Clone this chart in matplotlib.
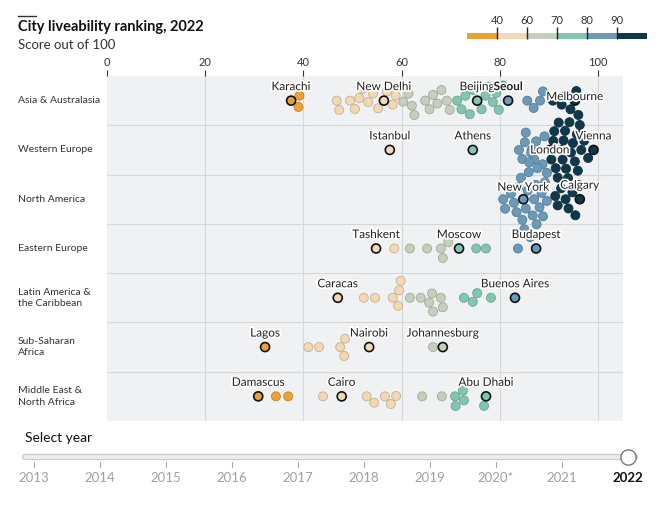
import numpy as np
import matplotlib
matplotlib.use("Agg")
import matplotlib.pyplot as plt
import matplotlib.patheffects as pe
from matplotlib.transforms import blended_transform_factory

plt.rcParams["font.family"] = ["Lato", "DejaVu Sans"]

# ---- data ----
regions = ["Asia & Australasia", "Western Europe", "North America", "Eastern Europe",
           "Latin America &\nthe Caribbean", "Sub-Saharan\nAfrica", "Middle East &\nNorth Africa"]

asia = [39.2, 39.0,
        46.8, 47.3, 49.5, 50.5, 51.4, 52.1, 53.2, 54.2, 55.2, 57.0, 58.2, 58.8,
        60.3, 61.4, 62.1, 62.6, 64.8, 65.7, 66.4, 67.3, 68.1, 69.2, 69.8,
        71.3, 72.2, 73.0, 73.9, 74.6, 76.3, 77.1, 77.8, 78.6, 79.3, 79.8,
        80.6, 85.6, 86.9, 88.2, 88.8,
        90.8, 92.6, 93.4, 94.4, 96.0, 95.6]
w_europe = [83.9, 84.6, 85.3, 86.5, 87.4, 88.7, 85.1, 87.0, 89.1, 89.6,
            98.0, 97.2, 96.3, 95.9, 95.7, 95.3, 94.9, 94.7, 94.2, 93.9, 93.5, 93.3,
            92.8, 92.6, 92.0, 91.8, 91.4, 91.1, 90.9, 90.5, 93.0, 94.5, 96.6]
n_america = [96.1, 95.4, 94.8, 94.0, 93.4, 92.5, 91.8, 91.3,
             80.7, 81.1, 82.3, 82.9, 83.4, 83.8, 84.3, 85.0, 85.3, 85.7, 86.0,
             86.4, 86.7, 87.0, 87.3, 87.7, 88.1, 88.5, 88.8, 89.2, 89.6,
             84.6, 85.9, 87.5, 86.2]
e_europe = [58.5, 61.7, 65.2, 68.0, 69.5, 68.4, 75.2, 77.2, 83.7]
latam = [52.3, 54.6, 58.2, 59.8, 59.5, 59.3, 61.7, 63.9, 66.4, 66.2, 68.4,
         65.6, 68.0, 72.7, 75.4, 74.5, 78.2]
ssa = [41.0, 43.2, 47.5, 48.5, 48.3, 66.4]
mena = [34.4, 36.9, 44.0, 52.9, 54.4, 56.6, 58.9, 57.8, 64.2, 68.2,
        70.9, 71.0, 72.7, 72.5, 76.8]
others = [asia, w_europe, n_america, e_europe, latam, ssa, mena]

# highlighted cities: (row, name, score)
cities = [(0, "Karachi", 37.5), (0, "New Delhi", 56.4), (0, "Beijing", 75.4),
          (0, "Seoul", 81.7), (0, "Melbourne", 95.3),
          (1, "Istanbul", 57.6), (1, "Athens", 74.5), (1, "Vienna", 99.1), (1, "London", 90.2),
          (2, "New York", 84.8), (2, "Calgary", 96.3),
          (3, "Tashkent", 54.8), (3, "Moscow", 71.7), (3, "Budapest", 87.4),
          (4, "Caracas", 47.0), (4, "Buenos Aires", 83.1),
          (5, "Lagos", 32.2), (5, "Nairobi", 53.4), (5, "Johannesburg", 68.4),
          (6, "Damascus", 30.8), (6, "Cairo", 47.8), (6, "Abu Dhabi", 77.2)]

band_edges = [40, 60, 70, 80, 90]
band_labels = ["40", "60", "70", "80", "90"]
band_colors = ["#EBA135", "#F2D8B5", "#C6CFBE", "#82C6B2", "#6A9AB7", "#10384A"]
years = [2013, 2014, 2015, 2016, 2017, 2018, 2019, 2020, 2021, 2022]
year_labels = ["2013", "2014", "2015", "2016", "2017", "2018", "2019", "2020*", "2021", "2022"]

W, H = 658, 522
fig = plt.figure(figsize=(W / 100, H / 100), dpi=100)
fig.patch.set_facecolor("white")

# main panel
ax = fig.add_axes([107 / W, 1 - 421 / H, 516 / W, 345 / H])
ax.set_facecolor("#F0F1F3")
XMAX = 105.1
ax.set_xlim(0, XMAX)
ax.set_ylim(len(regions), 0)
for s in ax.spines.values():
    s.set_visible(False)
ax.xaxis.tick_top()
ax.set_xticks([0, 20, 40, 60, 80, 100])
ax.tick_params(axis="x", top=True, bottom=False, labeltop=True, labelbottom=False,
               labelsize=8, colors="#333333", length=4, width=0.8, pad=2)
ax.set_yticks([])
for v in [20, 40, 60, 80, 100]:
    ax.axvline(v, color="#D6D7D9", lw=0.8, zorder=1)
for r in range(1, len(regions)):
    ax.axhline(r, color="#D6D7D9", lw=0.8, zorder=1)

kx = 516 / XMAX          # px per score point
ky = 345 / len(regions)  # px per row
D = 9.7                  # min distance between dot centres, px


def colour(v):
    return band_colors[int(np.searchsorted(band_edges, v, side="right"))]


def darker(c, f=0.82):
    rgb = np.array(matplotlib.colors.to_rgb(c))
    return tuple(rgb * f)


def swarm(xs):
    placed, out = [], []
    for x in xs:
        cands = [0.0]
        for px, py in placed:
            dx = abs(x - px)
            if dx < D:
                h = np.sqrt(D * D - dx * dx)
                cands += [py + h, py - h]
        cands.sort(key=abs)
        for c in cands:
            if all((x - px) ** 2 + (c - py) ** 2 >= D * D - 1e-6 for px, py in placed):
                break
        placed.append((x, c))
        out.append(c)
    return out


trans_lab = blended_transform_factory(fig.transFigure, ax.transData)
for r, name in enumerate(regions):
    ax.text(18 / W, r + 0.5, name, transform=trans_lab, ha="left", va="center",
            fontsize=7.5, color="#333333", linespacing=1.35)

    hl = [(n, v) for rr, n, v in cities if rr == r]
    vals = [v for _, v in hl] + sorted(others[r])
    offs = swarm([v * kx for v in vals])
    ys = [r + 0.5 + o / ky for o in offs]
    nh = len(hl)
    fc = [colour(v) for v in vals]
    ec = [darker(c) for c in fc[nh:]]
    ax.scatter(vals[nh:], ys[nh:], s=42, c=fc[nh:], edgecolors=ec, linewidths=0.6,
               zorder=3, clip_on=False)
    ax.scatter(vals[:nh], ys[:nh], s=42, c=fc[:nh], edgecolors="#111111", linewidths=1.2,
               zorder=4, clip_on=False)
    for (n, v), y in zip(hl, ys[:nh]):
        dy = {"London": 0, "Melbourne": 4, "New York": 12}.get(n, 14)
        ax.text(v, y - dy / ky, n, ha="center", va="center", fontsize=8.5,
                color="#222222", zorder=6, fontweight="bold" if n == "Seoul" else "normal",
                path_effects=[pe.withStroke(linewidth=2.5, foreground="white")])

# colour legend
lax = fig.add_axes([467 / W, 1 - 39 / H, 180 / W, 6 / H])
lax.bar(range(len(band_colors)), 1, width=1, align="edge", color=band_colors)
lax.set_xlim(0, len(band_colors))
lax.set_ylim(0, 1)
for s in lax.spines.values():
    s.set_visible(False)
lax.xaxis.tick_top()
lax.set_xticks(range(1, len(band_colors)), band_labels)
lax.set_yticks([])
lax.tick_params(axis="x", top=True, bottom=False, labeltop=True, labelbottom=False,
                direction="inout", length=8, width=1, color="#222222", labelsize=8,
                labelcolor="#333333", pad=1)

# title block
fig.add_artist(plt.Line2D([18 / W, 36 / W], [1 - 16 / H, 1 - 16 / H], color="#333333", lw=1))
fig.text(18 / W, 1 - 27 / H, "City liveability ranking, 2022", fontsize=10.5,
         fontweight="bold", color="#111111", va="center")
fig.text(18 / W, 1 - 45 / H, "Score out of 100", fontsize=9.5, color="#333333", va="center")

# year slider
fig.text(25 / W, 1 - 438 / H, "Select year", fontsize=10, color="#111111", va="center")
sax = fig.add_axes([0, 1 - 490 / H, 1, 42 / H])
sax.set_xlim(2013 - 34 / 66, 2013 + (W - 34) / 66)
sax.set_ylim(490, 448)
sax.axis("off")
sax.plot([2013 - 9 / 66, 2022 + 7 / 66], [457, 457], color="#C9C9C9", lw=4.5,
         solid_capstyle="round")
sax.plot([2013 - 9 / 66, 2022 + 7 / 66], [457, 457], color="#ECECEC", lw=2.8,
         solid_capstyle="round")
for yr, lab in zip(years, year_labels):
    if yr != years[-1]:
        sax.plot([yr, yr], [462, 467], color="#AAAAAA", lw=0.8)
        sax.text(yr, 478, lab, ha="center", va="center", fontsize=9.5, color="#A0A0A0")
    else:
        sax.text(yr, 478, lab, ha="center", va="center", fontsize=9.5, color="#111111",
                 fontweight="bold")
sax.plot([years[-1]], [457], "o", ms=11, mfc="white", mec="#777777", mew=1, clip_on=False)

fig.savefig("out.png", dpi=100)
